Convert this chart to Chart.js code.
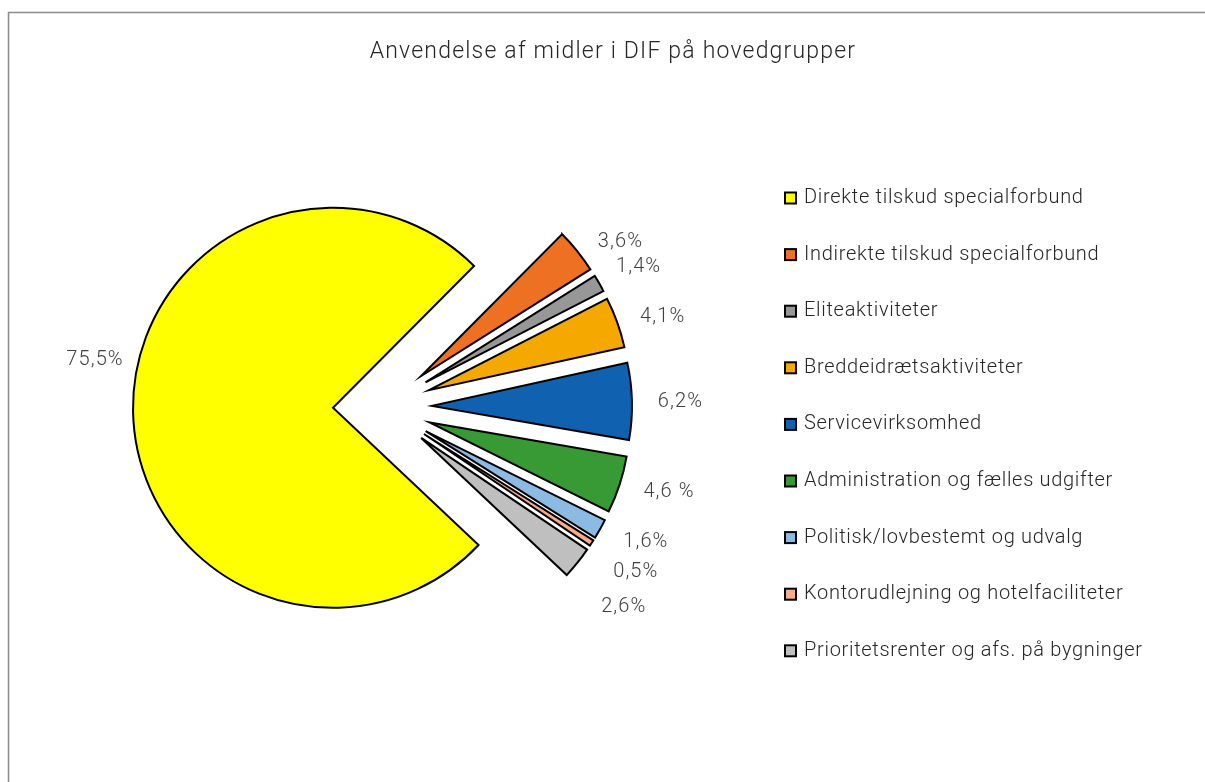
<!DOCTYPE html>
<html><head><meta charset="utf-8">
<script src="https://cdn.jsdelivr.net/npm/chart.js@4.4.1/dist/chart.umd.min.js"></script>
<style>html,body{margin:0;padding:0;background:#fff;overflow:hidden}#wrap{position:relative;width:1205px;height:782px}</style>
</head><body><div id="wrap"><canvas id="c"></canvas></div>
<script>
// ---- data ----
const chartTitle = 'Anvendelse af midler i DIF på hovedgrupper';
const categories = [
  'Direkte tilskud specialforbund',
  'Indirekte tilskud specialforbund',
  'Eliteaktiviteter',
  'Breddeidrætsaktiviteter',
  'Servicevirksomhed',
  'Administration og fælles udgifter',
  'Politisk/lovbestemt og udvalg',
  'Kontorudlejning og hotelfaciliteter',
  'Prioritetsrenter og afs. på bygninger'
];
const shares = [75.5, 3.6, 1.4, 4.1, 6.2, 4.6, 1.6, 0.5, 2.6];
const dataLabels = ['75,5%', '3,6%', '1,4%', '4,1%', '6,2%', '4,6 %', '1,6%', '0,5%', '2,6%'];
const sliceColors = ['#FFFF00', '#EE7022', '#979797', '#F5A900', '#1062B0', '#389A34', '#8BBAE3', '#F9AB8C', '#BFBFBF'];

// ---- style ----
const FONT = '"Roboto", "Liberation Sans", sans-serif';
const EXPLODE = 49.5;
const labelAngleNudge = [12.6, 4.5, 1.0, 2.3, 0.2, -2.2, -2.8, -0.25, 1.0];
const labelDistance = [243, 241, 243, 245, 248.5, 249, 246, 252, 263];

function setSpacing(ctx, px) { if ('letterSpacing' in ctx) ctx.letterSpacing = px + 'px'; }

const explodePlugin = {
  id: 'explode',
  beforeDatasetDraw(chart, args) {
    const ctx = chart.ctx;
    args.meta.data.forEach(arc => {
      const p = arc.getProps(['startAngle', 'endAngle'], true);
      const mid = (p.startAngle + p.endAngle) / 2;
      ctx.save();
      ctx.translate(Math.cos(mid) * EXPLODE, Math.sin(mid) * EXPLODE);
      arc.draw(ctx, chart.chartArea);
      ctx.restore();
    });
    return false;
  }
};

const decorPlugin = {
  id: 'decor',
  beforeDraw(chart) {
    const ctx = chart.ctx;
    ctx.save();
    ctx.fillStyle = '#fff';
    ctx.fillRect(0, 0, chart.width, chart.height);
    ctx.strokeStyle = '#8a8a8a';
    ctx.lineWidth = 1.5;
    ctx.strokeRect(8.5, 12.5, chart.width + 20, chart.height + 20);
    ctx.restore();
  },
  afterDraw(chart) {
    const ctx = chart.ctx;
    ctx.save();
    // title
    ctx.fillStyle = '#262626';
    ctx.font = '300 23px ' + FONT;
    setSpacing(ctx, 1.2);
    ctx.textAlign = 'center';
    ctx.textBaseline = 'middle';
    ctx.fillText(chartTitle, 613, 52);
    // data labels
    const meta = chart.getDatasetMeta(0);
    ctx.fillStyle = '#404040';
    ctx.font = '300 20px ' + FONT;
    setSpacing(ctx, 1.1);
    meta.data.forEach((arc, i) => {
      const p = arc.getProps(['x', 'y', 'startAngle', 'endAngle'], true);
      const mid = (p.startAngle + p.endAngle) / 2;
      const vx = p.x + Math.cos(mid) * EXPLODE;
      const vy = p.y + Math.sin(mid) * EXPLODE;
      const a = mid + labelAngleNudge[i] * Math.PI / 180;
      ctx.fillText(dataLabels[i], vx + Math.cos(a) * labelDistance[i], vy + Math.sin(a) * labelDistance[i] + 1);
    });
    // legend
    ctx.textAlign = 'left';
    ctx.font = '300 20px ' + FONT;
    setSpacing(ctx, 0.7);
    categories.forEach((name, i) => {
      const cy = 198 + i * 56.6;
      ctx.fillStyle = sliceColors[i];
      ctx.fillRect(785, cy - 5.5, 11, 11);
      ctx.strokeStyle = '#000';
      ctx.lineWidth = 2;
      ctx.strokeRect(785, cy - 5.5, 11, 11);
      ctx.fillStyle = '#262626';
      ctx.fillText(name, 804, cy);
    });
    ctx.restore();
  }
};

new Chart(document.getElementById('c'), {
  type: 'pie',
  data: {
    labels: categories,
    datasets: [{
      data: shares,
      backgroundColor: sliceColors,
      borderColor: '#000',
      borderWidth: 2,
      borderJoinStyle: 'miter',
      radius: 200,
      rotation: 133.3
    }]
  },
  options: {
    responsive: true,
    maintainAspectRatio: false,
    animation: false,
    events: [],
    layout: { padding: { left: 0, right: 440, top: 32, bottom: 0 } },
    plugins: { legend: { display: false }, title: { display: false }, tooltip: { enabled: false } }
  },
  plugins: [explodePlugin, decorPlugin]
});
</script>
</body></html>
